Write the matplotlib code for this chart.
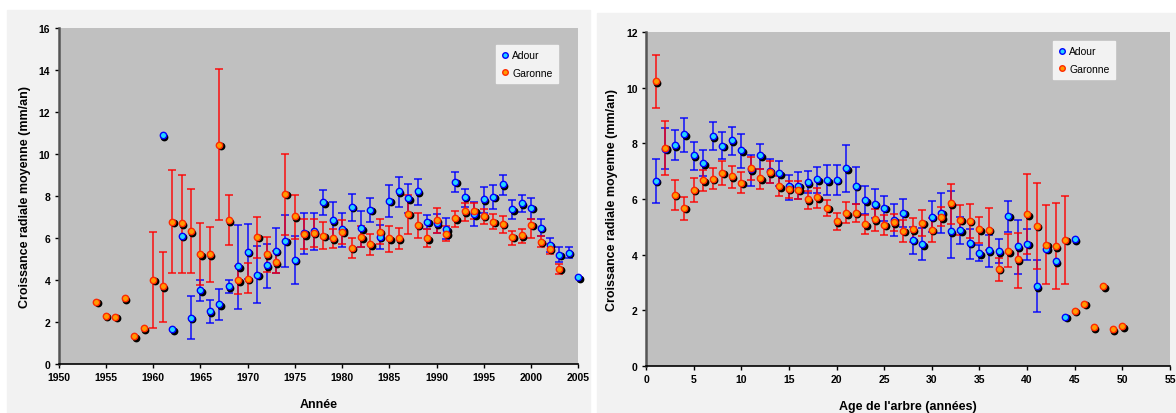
import numpy as np
import matplotlib
matplotlib.use("Agg")
import matplotlib.pyplot as plt
from matplotlib.lines import Line2D
from matplotlib.patches import Rectangle
from matplotlib.transforms import offset_copy

plt.rcParams['font.family'] = ['Liberation Sans', 'DejaVu Sans']

nan = np.nan

# --- croissance par annee ---
adour_annee = [1961, 1962, 1963, 1964, 1965, 1966, 1967, 1968, 1969, 1970,
               1971, 1972, 1973, 1974, 1975, 1976, 1977, 1978, 1979, 1980,
               1981, 1982, 1983, 1984, 1985, 1986, 1987, 1988, 1989, 1990,
               1991, 1992, 1993, 1994, 1995, 1996, 1997, 1998, 1999, 2000,
               2001, 2002, 2003, 2004, 2005]
adour_annee_moy = [10.9, 1.65, 6.1, 2.2, 3.52, 2.51, 2.84, 3.7, 4.65, 5.35,
                   4.24, 4.7, 5.4, 5.87, 4.97, 6.24, 6.33, 7.7, 6.84, 6.41,
                   7.48, 6.46, 7.35, 6.05, 7.78, 8.22, 7.89, 8.22, 6.78, 6.7,
                   6.41, 8.67, 7.97, 7.14, 7.84, 7.97, 8.56, 7.37, 7.65, 7.45,
                   6.49, 5.68, 5.21, 5.3, 4.13]
adour_annee_min = [nan, nan, nan, 1.18, 3.02, 1.94, 2.1, 3.37, 2.62, 4.05,
                   2.89, 3.6, 4.32, 4.64, 3.83, 5.26, 5.43, 7.08, 5.97, 5.56,
                   6.81, 5.56, 6.76, 5.46, 7.0, 7.49, 7.2, 7.59, 6.41, 6.26,
                   5.94, 8.18, 7.49, 6.56, 7.2, 7.4, 8.03, 6.92, 7.22, 6.9,
                   6.1, 5.33, 4.86, 5.05, nan]
adour_annee_max = [nan, nan, nan, 3.24, 4.02, 3.03, 3.56, 4.02, 6.62, 6.65,
                   5.6, 5.73, 6.48, 7.1, 6.1, 7.18, 7.18, 8.29, 7.72, 7.21,
                   8.11, 7.3, 7.9, 6.6, 8.54, 8.9, 8.59, 8.83, 7.1, 7.13,
                   6.95, 9.14, 8.35, 7.71, 8.45, 8.54, 9.0, 7.81, 8.07, 7.9,
                   6.89, 6.02, 5.59, 5.59, nan]

garonne_annee = [1954, 1955, 1956, 1957, 1958, 1959, 1960, 1961, 1962, 1963,
                 1964, 1965, 1966, 1967, 1968, 1969, 1970, 1971, 1972, 1973,
                 1974, 1975, 1976, 1977, 1978, 1979, 1980, 1981, 1982, 1983,
                 1984, 1985, 1986, 1987, 1988, 1989, 1990, 1991, 1992, 1993,
                 1994, 1995, 1996, 1997, 1998, 1999, 2000, 2001, 2002, 2003]
garonne_annee_moy = [2.97, 2.3, 2.26, 3.13, 1.33, 1.7, 4.02, 3.7, 6.78, 6.7,
                     6.32, 5.22, 5.22, 10.43, 6.84, 3.99, 4.07, 6.05, 5.22, 4.84,
                     8.1, 7.03, 6.18, 6.26, 6.11, 6.0, 6.3, 5.54, 6.03, 5.7,
                     6.29, 6.0, 6.0, 7.16, 6.62, 6.0, 6.84, 6.21, 6.94, 7.27,
                     7.3, 7.05, 6.78, 6.67, 6.05, 6.13, 6.62, 5.83, 5.49, 4.54]
garonne_annee_min = [nan, nan, nan, nan, nan, nan, 1.73, 2.02, 4.32, 4.35,
                     4.32, 3.75, 3.89, 6.86, 5.67, 3.33, 3.37, 5.05, 4.4, 4.32,
                     6.14, 5.97, 5.46, 5.57, 5.46, 5.54, 5.73, 5.07, 5.57, 5.21,
                     5.7, 5.35, 5.49, 6.18, 6.02, 5.57, 6.22, 5.84, 6.51, 6.81,
                     6.92, 6.65, 6.41, 6.24, 5.68, 5.78, 6.02, 5.56, 5.22, 4.29]
garonne_annee_max = [nan, nan, nan, nan, nan, nan, 6.3, 5.33, 9.24, 9.02,
                     8.33, 6.72, 6.52, 14.03, 8.07, 4.65, 4.8, 7.02, 6.07, 5.4,
                     10.02, 8.03, 6.89, 6.89, 6.76, 6.45, 6.86, 6.02, 6.57, 6.18,
                     6.89, 6.57, 6.5, 8.03, 7.18, 6.41, 7.43, 6.57, 7.3, 7.67,
                     7.67, 7.4, 7.13, 7.07, 6.33, 6.43, 6.92, 6.1, 5.7, 4.75]

# --- croissance par age de l'arbre ---
adour_age = list(range(1, 46))
adour_age_moy = [6.65, 7.8, 7.94, 8.33, 7.57, 7.29, 8.25, 7.92, 8.11, 7.75,
                 7.07, 7.57, 7.01, 6.92, 6.47, 6.48, 6.61, 6.71, 6.67, 6.7,
                 7.1, 6.47, 5.95, 5.83, 5.68, 5.25, 5.51, 4.54, 4.38, 5.37,
                 5.51, 4.85, 4.88, 4.43, 4.05, 4.15, 4.13, 5.39, 4.31, 4.4,
                 2.87, 4.22, 3.77, 1.77, 4.55]
adour_age_min = [5.84, 7.07, 7.39, 7.68, 7.03, 6.82, 7.75, 7.43, 7.57, 7.13,
                 6.48, 7.08, 6.57, 6.47, 5.98, 6.0, 6.21, 6.23, 6.16, 6.16,
                 6.25, 5.82, 5.45, 5.3, 5.21, 4.67, 5.0, 4.04, 3.8, 4.82,
                 4.79, 3.89, 4.37, 3.86, 3.77, 3.57, 3.71, 4.82, 3.3, 3.8,
                 1.95, nan, nan, nan, nan]
adour_age_max = [7.45, 8.55, 8.49, 8.92, 8.06, 7.75, 8.75, 8.41, 8.6, 8.34,
                 7.58, 7.99, 7.45, 7.38, 6.86, 6.98, 7.02, 7.15, 7.22, 7.22,
                 7.93, 7.15, 6.48, 6.37, 6.11, 5.82, 5.99, 4.99, 4.96, 5.92,
                 6.2, 6.27, 5.37, 4.94, 4.35, 4.7, 4.55, 5.92, 5.25, 4.94,
                 3.8, nan, nan, nan, nan]

garonne_age = list(range(1, 51))
garonne_age_moy = [10.23, 7.85, 6.15, 5.69, 6.34, 6.68, 6.73, 6.94, 6.81, 6.59,
                   7.1, 6.74, 6.96, 6.45, 6.37, 6.34, 5.99, 6.07, 5.69, 5.2,
                   5.48, 5.5, 5.09, 5.27, 5.08, 5.16, 4.86, 4.91, 5.15, 4.9,
                   5.35, 5.85, 5.25, 5.21, 4.92, 4.89, 3.5, 4.13, 3.83, 5.46,
                   5.04, 4.36, 4.31, 4.53, 1.98, 2.23, 1.39, 2.87, 1.32, 1.42]
garonne_age_min = [9.26, 6.88, 5.61, 5.26, 5.91, 6.27, 6.36, 6.52, 6.41, 6.21,
                   6.67, 6.36, 6.58, 6.11, 6.05, 5.99, 5.64, 5.69, 5.38, 4.9,
                   5.13, 5.19, 4.74, 4.85, 4.72, 4.86, 4.44, 4.46, 4.67, 4.44,
                   5.03, 5.09, 4.7, 4.61, 4.43, 4.16, 3.04, 3.55, 2.82, 4.01,
                   3.47, 2.96, 2.78, 2.96, nan, nan, nan, nan, nan, nan]
garonne_age_max = [11.19, 8.8, 6.7, 6.07, 6.77, 7.03, 7.1, 7.36, 7.19, 6.98,
                   7.51, 7.06, 7.36, 6.81, 6.65, 6.65, 6.3, 6.39, 5.98, 5.48,
                   5.89, 5.83, 5.44, 5.63, 5.43, 5.46, 5.25, 5.32, 5.6, 5.32,
                   5.73, 6.55, 5.8, 5.82, 5.37, 5.66, 3.89, 4.73, 4.77, 6.91,
                   6.58, 5.77, 5.87, 6.09, nan, nan, nan, nan, nan, nan]

ADOUR = dict(fill='#22d4ff', edge='#0000ff', bar='#0000ff')
GARONNE = dict(fill='#ff9900', edge='#ff2a00', bar='#ff0000')


def serie(ax, fig, x, moy, bas, haut, style):
    x = np.array(x, float)
    moy = np.array(moy, float)
    bas = np.array(bas, float)
    haut = np.array(haut, float)
    m = np.isfinite(bas)
    ax.errorbar(x[m], moy[m], yerr=[moy[m] - bas[m], haut[m] - moy[m]],
                fmt='none', ecolor=style['bar'], elinewidth=1.2,
                capsize=3, capthick=1.2, alpha=0.85, zorder=2)
    # ombre portee sous chaque point
    ombre = offset_copy(ax.transData, fig=fig, x=1.5, y=-1.5, units='dots')
    ax.plot(x, moy, 'o', ms=4.6, color='black', transform=ombre,
            ls='none', zorder=3, clip_on=False)
    ax.plot(x, moy, 'o', ms=4.6, mfc=style['fill'], mec=style['edge'],
            mew=1.0, ls='none', zorder=4, clip_on=False)


def habillage(ax, xlim, ylim, xlabel, leg_anchor):
    ax.set_facecolor('#c0c0c0')
    ax.set_xlim(*xlim)
    ax.set_ylim(*ylim)
    ax.set_xticks(np.arange(xlim[0], xlim[1] + 1, 5))
    ax.set_yticks(np.arange(ylim[0], ylim[1] + 1, 2))
    for s in ['top', 'right']:
        ax.spines[s].set_visible(False)
    ax.spines['left'].set_color('#555555')
    ax.spines['left'].set_linewidth(1.8)
    ax.spines['bottom'].set_color('black')
    ax.spines['bottom'].set_linewidth(1.2)
    ax.tick_params(direction='out', length=3, width=1, labelsize=7.5, pad=3)
    for lab in ax.get_xticklabels() + ax.get_yticklabels():
        lab.set_fontweight('bold')
    ax.set_xlabel(xlabel, fontsize=9, fontweight='bold', labelpad=11)
    ax.set_ylabel('Croissance radiale moyenne (mm/an)', fontsize=9,
                  fontweight='bold', labelpad=6)
    poignees = [Line2D([], [], marker='o', ls='none', ms=4, mfc=st['fill'],
                       mec=st['edge'], mew=1) for st in (ADOUR, GARONNE)]
    leg = ax.legend(poignees, ['Adour', 'Garonne'], loc='upper right',
                    bbox_to_anchor=leg_anchor, fontsize=7.5, frameon=True,
                    fancybox=False, framealpha=1, handlelength=0.8,
                    handletextpad=0.3, borderpad=0.5, labelspacing=0.7,
                    borderaxespad=0)
    leg.get_frame().set_facecolor('#f2f2f2')
    leg.get_frame().set_edgecolor('#f2f2f2')


fig = plt.figure(figsize=(11.76, 4.14), dpi=100, facecolor='white')
fig.patches.append(Rectangle((7 / 1176, 0), 583 / 1176, 403 / 414,
                             transform=fig.transFigure, color='#f2f2f2',
                             zorder=-1))
fig.patches.append(Rectangle((597 / 1176, 0), 579 / 1176, 400 / 414,
                             transform=fig.transFigure, color='#f2f2f2',
                             zorder=-1))

ax1 = fig.add_axes([58.7 / 1176, 49 / 414, 519.6 / 1176, 336 / 414])
serie(ax1, fig, adour_annee, adour_annee_moy, adour_annee_min,
      adour_annee_max, ADOUR)
serie(ax1, fig, garonne_annee, garonne_annee_moy, garonne_annee_min,
      garonne_annee_max, GARONNE)
habillage(ax1, (1950, 2005), (0, 16), 'Année', (0.961, 0.949))

ax2 = fig.add_axes([646 / 1176, 47 / 414, 524 / 1176, 334 / 414])
serie(ax2, fig, adour_age, adour_age_moy, adour_age_min, adour_age_max, ADOUR)
serie(ax2, fig, garonne_age, garonne_age_moy, garonne_age_min,
      garonne_age_max, GARONNE)
habillage(ax2, (0, 55), (0, 12), "Age de l'arbre (années)", (0.895, 0.973))

fig.savefig('out.png', dpi=100, facecolor='white')
